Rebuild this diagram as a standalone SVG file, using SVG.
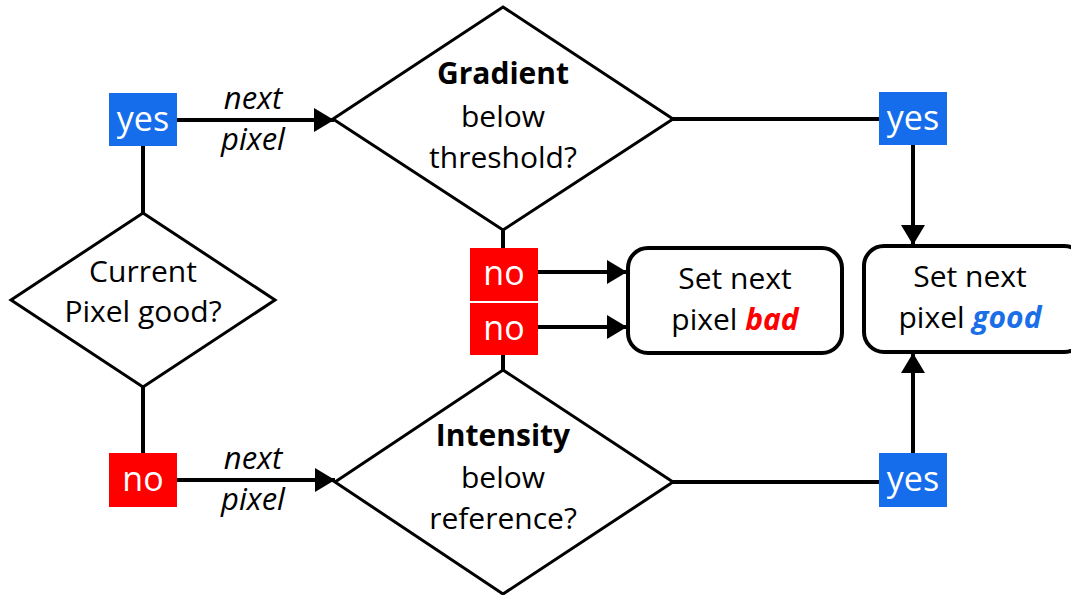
<svg xmlns="http://www.w3.org/2000/svg" width="1071" height="595" viewBox="0 0 1071 595">
<defs>
<marker id="arr" markerUnits="userSpaceOnUse" markerWidth="20" markerHeight="24" refX="20" refY="12" orient="auto">
<path d="M0,0 L20,12 L0,24 z" fill="#000"/>
</marker>
</defs>
<style>
text{font-family:"Open Sans","Noto Sans",sans-serif;font-size:30px;fill:#000;text-anchor:middle}
.dia{fill:#fff;stroke:#000;stroke-width:3}
.box{fill:#fff;stroke:#000;stroke-width:4}
.yes{fill:#166dec}
.no{fill:#ff0000}
.lbl{fill:#fff;font-size:34px}
.it{font-style:italic;font-size:31px}
.b{font-weight:bold}
.con line{stroke:#000;stroke-width:4}
.arrow{marker-end:url(#arr)}
</style>
<rect width="1071" height="595" fill="#fff"/>
<g class="con">
<line x1="143" y1="146" x2="143" y2="213"/>
<line x1="143" y1="387" x2="143" y2="453"/>
<line class="arrow" x1="177" y1="120" x2="334" y2="120"/>
<line class="arrow" x1="177" y1="480" x2="335" y2="480"/>
<line x1="673" y1="119" x2="879" y2="119"/>
<line x1="673" y1="482" x2="879" y2="482"/>
<line x1="503" y1="230" x2="503" y2="248"/>
<line x1="503" y1="355" x2="503" y2="370"/>
<line class="arrow" x1="538" y1="272" x2="627" y2="272"/>
<line class="arrow" x1="538" y1="327" x2="627" y2="327"/>
<line class="arrow" x1="913" y1="145" x2="913" y2="245"/>
<line class="arrow" x1="913" y1="453" x2="913" y2="353"/>
</g>
<g id="lbl-next-top"><text class="it" x="253" y="109">next</text><text class="it" x="253" y="150">pixel</text></g>
<g id="lbl-next-bot"><text class="it" x="253" y="469">next</text><text class="it" x="253" y="510">pixel</text></g>
<g id="current">
<polygon class="dia" points="143,213 275,300 143,387 11,300"/>
<text x="143" y="282">Current</text>
<text x="143" y="322">Pixel good?</text>
</g>
<g id="gradient">
<polygon class="dia" points="503,7 673,119 503,230 333,119"/>
<text class="b" x="503" y="84">Gradient</text>
<text x="503" y="127">below</text>
<text x="503" y="168">threshold?</text>
</g>
<g id="intensity">
<polygon class="dia" points="503,370 673,482 503,594 335,482"/>
<text class="b" x="503" y="446">Intensity</text>
<text x="503" y="488">below</text>
<text x="503" y="529">reference?</text>
</g>
<g id="yes-left"><rect class="yes" x="109" y="93" width="68" height="53"/><text class="lbl" x="143" y="131">yes</text></g>
<g id="no-left"><rect class="no" x="109" y="453" width="68" height="54"/><text class="lbl" x="143" y="491">no</text></g>
<g id="yes-top"><rect class="yes" x="879" y="92" width="68" height="53"/><text class="lbl" x="913" y="130">yes</text></g>
<g id="yes-bot"><rect class="yes" x="879" y="453" width="68" height="54"/><text class="lbl" x="913" y="491">yes</text></g>
<g id="no-top"><rect class="no" x="470" y="248" width="68" height="53"/><text class="lbl" x="504" y="285">no</text></g>
<g id="no-bot"><rect class="no" x="470" y="303" width="68" height="52"/><text class="lbl" x="504" y="340">no</text></g>
<g id="bad">
<rect class="box" x="628" y="248" width="214" height="105" rx="20"/>
<text x="735" y="289">Set next</text>
<text x="735" y="330">pixel <tspan class="b" font-style="italic" fill="#ff0000">bad</tspan></text>
</g>
<g id="good">
<rect class="box" x="864" y="246" width="220" height="106" rx="20"/>
<text x="970" y="287">Set next</text>
<text x="970" y="328">pixel <tspan class="b" font-style="italic" fill="#1a6fe8">good</tspan></text>
</g>
</svg>
